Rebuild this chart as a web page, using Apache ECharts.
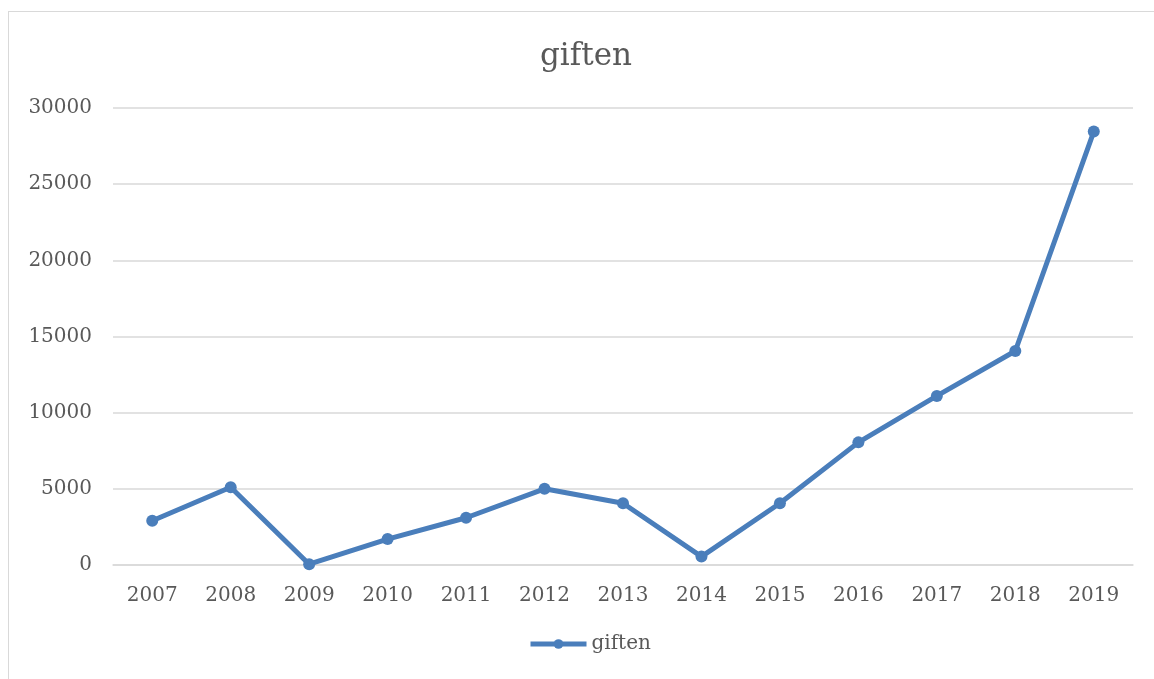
<!DOCTYPE html>
<html>
<head>
<meta charset="utf-8">
<script src="https://cdn.jsdelivr.net/npm/echarts@6/dist/echarts.min.js"></script>
<style>
html,body{margin:0;padding:0;background:#fff;}
#frame{position:absolute;left:8px;top:11px;width:1160px;height:680px;border:1.5px solid #d9d9d9;box-sizing:border-box;}
#chart{position:absolute;left:0;top:0;width:1154px;height:679px;}
</style>
</head>
<body>
<div id="frame"></div>
<div id="chart"></div>
<script>
var categories = ['2007','2008','2009','2010','2011','2012','2013','2014','2015','2016','2017','2018','2019'];
var giften = [2900, 5100, 50, 1700, 3100, 5000, 4050, 550, 4050, 8050, 11100, 14050, 28450];
var yTicks = [0, 5000, 10000, 15000, 20000, 25000, 30000];
var seriesName = 'giften';
var titleText = 'giften';

var font = '"DejaVu Serif", "Liberation Serif", serif';
var chart = echarts.init(document.getElementById('chart'));
chart.setOption({
  animation: false,
  title: {
    text: titleText, left: 535, top: 36,
    textStyle: {fontFamily: font, fontSize: 31, fontWeight: 'normal', color: '#595959'}
  },
  legend: {
    data: [seriesName], bottom: 20, left: 523,
    itemWidth: 56, itemHeight: 12, itemGap: 4,
    lineStyle: {width: 5},
    textStyle: {fontFamily: font, fontSize: 20, color: '#595959'}
  },
  grid: {left: 113, right: 21, top: 108, bottom: 114},
  xAxis: {
    type: 'category', data: categories, boundaryGap: true,
    axisLine: {lineStyle: {color: '#d9d9d9', width: 1.5}},
    axisTick: {show: false},
    axisLabel: {fontFamily: font, fontSize: 20, color: '#595959', margin: 21}
  },
  yAxis: {
    type: 'value', min: yTicks[0], max: yTicks[yTicks.length-1], interval: 5000,
    axisLine: {show: false}, axisTick: {show: false},
    splitLine: {lineStyle: {color: '#d9d9d9', width: 1.5}},
    axisLabel: {fontFamily: font, fontSize: 20, color: '#595959', margin: 21,
      formatter: function (v) { return String(v); }}
  },
  series: [{
    name: seriesName, type: 'line', data: giften,
    symbol: 'circle', symbolSize: 12,
    lineStyle: {color: '#4a7ebb', width: 5},
    itemStyle: {color: '#4a7ebb'}
  }]
});
</script>
</body>
</html>
